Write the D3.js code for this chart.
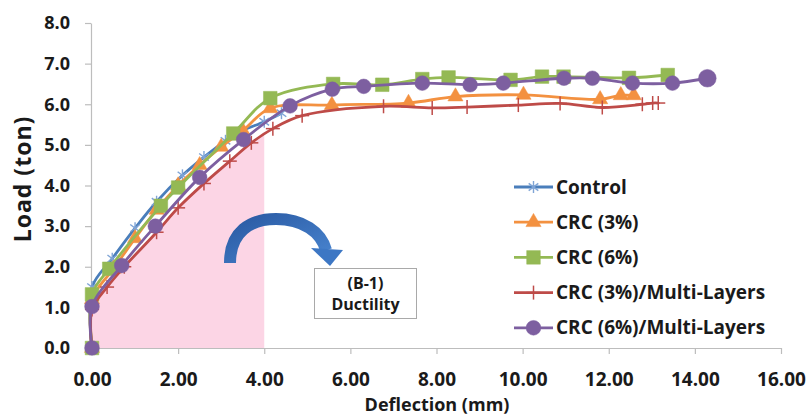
<!DOCTYPE html>
<html><head><meta charset="utf-8">
<script src="https://cdn.jsdelivr.net/npm/d3@7"></script>
<style>
html,body{margin:0;padding:0;background:#fff;}
svg text{font-family:"Open Sans",sans-serif;font-weight:bold;fill:#1a1a1a;}
</style></head>
<body><svg id="c" width="810" height="416"></svg>
<script>
// ---- data ----
const seriesNames = ["Control","CRC (3%)","CRC (6%)","CRC (3%)/Multi-Layers","CRC (6%)/Multi-Layers"];
const controlX = [0,0,0.47,1.0,1.5,2.1,2.6,3.1,3.5,4.0,4.4];
const controlY = [0,1.5,2.2,2.95,3.6,4.25,4.7,5.1,5.35,5.57,5.78];
const crc3X = [0,0,0.5,1.0,1.5,2.0,2.5,3.0,3.5,4.14,5.57,7.35,8.44,10.02,11.8,12.28,12.58];
const crc3Y = [0,1.2,1.95,2.7,3.4,4.0,4.5,4.95,5.35,5.9,5.98,6.03,6.19,6.23,6.12,6.22,6.22];
const crc6X = [0,0,0.4,1.6,2.0,3.28,4.14,5.6,6.74,7.67,8.28,9.72,10.45,10.95,12.47,13.37];
const crc6Y = [0,1.32,1.95,3.5,3.95,5.28,6.15,6.5,6.48,6.62,6.66,6.6,6.68,6.68,6.65,6.72];
const crc3mlX = [0,0,0.35,0.75,1.5,2.0,2.6,3.2,3.7,4.2,4.88,6.77,7.9,8.71,9.9,10.87,11.85,12.78,13.02,13.15];
const crc3mlY = [0,0.95,1.5,2.0,2.85,3.45,4.05,4.6,5.05,5.4,5.72,5.95,5.91,5.93,5.98,6.02,5.92,6.0,6.03,6.03];
const crc6mlX = [0,0,0.69,1.47,2.5,3.52,4.6,5.58,6.31,7.67,8.78,9.55,10.96,11.62,12.55,13.48,14.29];
const crc6mlY = [0,1.02,2.03,3.0,4.2,5.13,5.96,6.37,6.44,6.52,6.48,6.52,6.64,6.64,6.52,6.52,6.64];
const xTicks = [0,2,4,6,8,10,12,14,16];
const yTicks = [0,1,2,3,4,5,6,7,8];
const ductilityLimit = 4.0;
const noteLines = ["(B-1)","Ductility"];

// ---- setup ----
const svg = d3.select("#c");
const x = d3.scaleLinear().domain([0,16]).range([92,781]);
const y = d3.scaleLinear().domain([0,8]).range([348,23]);
const colors = ["#4a7ebb","#f39140","#94b954","#be4b48","#7d5fa0"];
const markers = ["star","triangle","square","plus","circle"];
const xs = [controlX,crc3X,crc6X,crc3mlX,crc6mlX];
const ys = [controlY,crc3Y,crc6Y,crc3mlY,crc6mlY];
const series = seriesNames.map((n,i)=>({name:n,color:colors[i],marker:markers[i],
  pts:xs[i].map((v,j)=>({x:v,y:ys[i][j]}))}));

const curve = d3.curveCatmullRom.alpha(0.5);
const line = d3.line().x(d=>x(d.x)).y(d=>y(d.y)).curve(curve);

// pink ductility area under the lowest curve, clipped at x=4
const defs = svg.append("defs");
defs.append("clipPath").attr("id","duct").append("rect")
  .attr("x",x(0)).attr("y",y(8)).attr("width",x(ductilityLimit)-x(0)).attr("height",y(0)-y(8));
const area = d3.area().x(d=>x(d.x)).y0(y(0)).y1(d=>y(d.y)).curve(curve);
svg.append("path").datum(series[3].pts).attr("d",area).attr("fill","#fcd5e5")
  .attr("clip-path","url(#duct)");

// axes
const yAxis = svg.append("g").attr("transform",`translate(${x(0)-1},0)`)
  .call(d3.axisLeft(y).tickValues(yTicks).tickFormat(d3.format(".1f")).tickSize(6).tickSizeOuter(0).tickPadding(15));
const xAxis = svg.append("g").attr("transform",`translate(0,${y(0)})`)
  .call(d3.axisBottom(x).tickValues(xTicks).tickFormat(d3.format(".2f")).tickSize(6).tickSizeOuter(0).tickPadding(19));
[yAxis,xAxis].forEach(a=>{
  a.selectAll("path,line").attr("stroke","#bdbdbd").attr("stroke-width",1.2);
  a.selectAll("text").style("font-size","18px").attr("fill","#1a1a1a");
});
xAxis.selectAll("text").style("font-size","19px");

// axis titles
svg.append("text").attr("x",437).attr("y",411).attr("text-anchor","middle")
  .style("font-size","18px").text("Deflection (mm)");
svg.append("text").attr("transform","translate(31,179) rotate(-90)").attr("text-anchor","middle")
  .style("font-size","23px").style("letter-spacing","1px").text("Load (ton)");

// marker drawing
function drawMarker(g, type, color, big){
  const s = big ? 1.2 : 1;
  if(type==="star"){
    const r=6;
    [[0,-r,0,r],[-r*0.8,-r*0.6,r*0.8,r*0.6],[-r*0.8,r*0.6,r*0.8,-r*0.6]].forEach(l=>
      g.append("line").attr("x1",l[0]).attr("y1",l[1]).attr("x2",l[2]).attr("y2",l[3])
       .attr("stroke","#7fa4d6").attr("stroke-width",1.4));
  } else if(type==="plus"){
    g.append("line").attr("x1",0).attr("y1",-7).attr("x2",0).attr("y2",7).attr("stroke",color).attr("stroke-width",1.5);
    g.append("line").attr("x1",-7).attr("y1",0).attr("x2",7).attr("y2",0).attr("stroke",color).attr("stroke-width",1.5);
  } else {
    const sym = {triangle:d3.symbolTriangle,square:d3.symbolSquare,circle:d3.symbolCircle}[type];
    const size = {triangle:100,square:185,circle:170}[type]*s*s;
    g.append("path").attr("d",d3.symbol(sym,size)()).attr("fill",color)
      .attr("stroke",color).attr("stroke-width",0.5);
  }
}

// series
series.forEach(s=>{
  const g = svg.append("g");
  g.append("path").datum(s.pts).attr("d",line).attr("fill","none")
    .attr("stroke",s.color).attr("stroke-width",2.8);
  s.pts.forEach((p,j)=>{
    const mg = g.append("g").attr("transform",`translate(${x(p.x)},${y(p.y)})`);
    drawMarker(mg, s.marker, s.color, s.marker==="circle" && j===s.pts.length-1);
  });
});

// curved arrow
const grad = defs.append("linearGradient").attr("id","ag").attr("x1","0").attr("y1","0").attr("x2","1").attr("y2","1");
grad.append("stop").attr("offset","0").attr("stop-color","#2a5aa3");
grad.append("stop").attr("offset","1").attr("stop-color","#4a86d1");
svg.append("path").attr("d","M230,263 C230,232 250,219 276,219 C303,219 321,232 326,250")
  .attr("fill","none").attr("stroke","url(#ag)").attr("stroke-width",12);
svg.append("path").attr("d","M311,248 L343,250 L330,266 Z").attr("fill","#3d77c4");

// annotation box
svg.append("rect").attr("x",314.5).attr("y",268.5).attr("width",102).attr("height",50)
  .attr("fill","#fff").attr("stroke","#a9a9a9").attr("stroke-width",1);
noteLines.forEach((t,i)=>svg.append("text").attr("x",365.5).attr("y",289+i*21)
  .attr("text-anchor","middle").style("font-size","16px").text(t));

// legend
const leg = svg.append("g");
series.forEach((s,i)=>{
  const ly = 187 + i*35.2;
  const g = leg.append("g").attr("transform",`translate(0,${ly})`);
  g.append("line").attr("x1",514).attr("x2",553).attr("y1",0).attr("y2",0)
    .attr("stroke",s.color).attr("stroke-width",2.8);
  const mg = g.append("g").attr("transform","translate(533.5,0)");
  drawMarker(mg, s.marker, s.color, false);
  g.append("text").attr("x",556).attr("y",0).attr("dy","0.35em")
    .style("font-size","19px").text(s.name);
});
</script></body></html>
